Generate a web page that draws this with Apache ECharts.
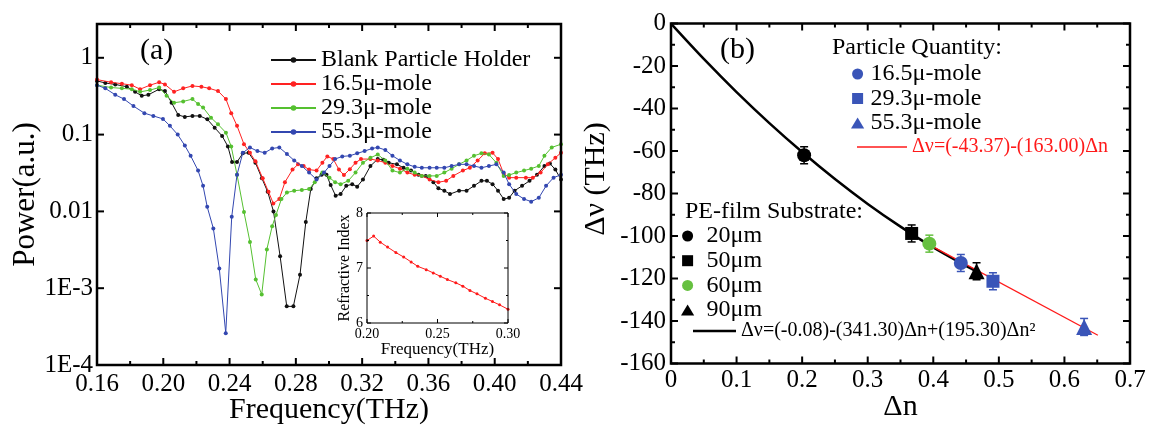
<!DOCTYPE html>
<html><head><meta charset="utf-8">
<script src="https://cdn.jsdelivr.net/npm/echarts@6/dist/echarts.min.js"></script>
<style>html,body{margin:0;padding:0;background:#fff}#c{width:1151px;height:426px}</style>
</head><body><div id="c"></div>
<script>
// ---------- Panel (a): power spectra, [frequency THz, power a.u.] ----------
const seriesNamesA = ['Blank Particle Holder', '16.5μ-mole', '29.3μ-mole', '55.3μ-mole'];
const blankHolder = [[0.160,0.50],[0.165,0.47],[0.171,0.45],[0.178,0.42],[0.183,0.36],[0.187,0.32],[0.191,0.33],[0.1975,0.39],[0.201,0.37],[0.205,0.26],[0.209,0.18],[0.213,0.17],[0.2176,0.175],[0.222,0.175],[0.2266,0.158],[0.231,0.123],[0.2355,0.096],[0.239,0.07],[0.2415,0.044],[0.2445,0.044],[0.248,0.057],[0.2515,0.058],[0.2556,0.043],[0.2595,0.027],[0.263,0.018],[0.2665,0.010],[0.2705,0.0026],[0.2745,0.00058],[0.2785,0.00058],[0.2825,0.0015],[0.286,0.0073],[0.289,0.0195],[0.2925,0.027],[0.2955,0.030],[0.2985,0.030],[0.301,0.022],[0.304,0.016],[0.307,0.0168],[0.3104,0.0215],[0.314,0.0226],[0.317,0.021],[0.3205,0.026],[0.325,0.039],[0.3294,0.048],[0.3327,0.047],[0.336,0.043],[0.341,0.041],[0.345,0.037],[0.3495,0.034],[0.354,0.030],[0.3584,0.029],[0.363,0.024],[0.366,0.020],[0.3696,0.0186],[0.373,0.0168],[0.3785,0.0186],[0.383,0.0186],[0.3875,0.0215],[0.392,0.025],[0.3953,0.025],[0.3987,0.0226],[0.402,0.0186],[0.4054,0.0145],[0.4087,0.015],[0.412,0.0186],[0.4165,0.0215],[0.421,0.025],[0.4255,0.030],[0.43,0.039],[0.4333,0.042],[0.4366,0.035],[0.44,0.026]];
const mole165 = [[0.160,0.52],[0.1685,0.48],[0.175,0.46],[0.181,0.44],[0.186,0.39],[0.192,0.44],[0.1975,0.48],[0.201,0.45],[0.2065,0.36],[0.212,0.40],[0.2176,0.43],[0.223,0.42],[0.2277,0.40],[0.233,0.37],[0.2378,0.29],[0.241,0.19],[0.2445,0.13],[0.2487,0.075],[0.2523,0.058],[0.2556,0.045],[0.26,0.027],[0.2635,0.018],[0.2664,0.0127],[0.27,0.0145],[0.2734,0.024],[0.278,0.035],[0.2813,0.041],[0.2847,0.039],[0.288,0.035],[0.2925,0.034],[0.296,0.043],[0.299,0.052],[0.3026,0.048],[0.306,0.035],[0.309,0.0297],[0.3126,0.0355],[0.316,0.043],[0.3193,0.048],[0.325,0.048],[0.3294,0.046],[0.334,0.043],[0.3383,0.039],[0.3428,0.036],[0.3473,0.032],[0.3517,0.030],[0.356,0.029],[0.3607,0.026],[0.366,0.024],[0.3707,0.025],[0.375,0.029],[0.3808,0.034],[0.385,0.037],[0.3897,0.046],[0.394,0.057],[0.3987,0.058],[0.402,0.048],[0.4054,0.031],[0.4087,0.0275],[0.413,0.0275],[0.4188,0.0275],[0.423,0.0275],[0.4277,0.032],[0.432,0.041],[0.4366,0.050],[0.44,0.058]];
const mole293 = [[0.160,0.44],[0.1685,0.41],[0.175,0.40],[0.181,0.39],[0.186,0.36],[0.192,0.38],[0.1975,0.41],[0.202,0.32],[0.2065,0.26],[0.212,0.27],[0.2176,0.29],[0.221,0.25],[0.224,0.225],[0.2288,0.166],[0.233,0.136],[0.2378,0.106],[0.241,0.070],[0.2445,0.030],[0.2487,0.0098],[0.2523,0.0040],[0.2558,0.0013],[0.2594,0.00083],[0.2625,0.0032],[0.2657,0.0064],[0.268,0.009],[0.2713,0.0145],[0.2746,0.0176],[0.279,0.0186],[0.2836,0.019],[0.288,0.0195],[0.2914,0.024],[0.296,0.032],[0.3003,0.0275],[0.3037,0.024],[0.307,0.0226],[0.3116,0.025],[0.316,0.032],[0.3205,0.043],[0.325,0.050],[0.3294,0.055],[0.334,0.046],[0.3383,0.034],[0.3428,0.032],[0.3473,0.036],[0.3517,0.032],[0.356,0.029],[0.3607,0.029],[0.365,0.029],[0.3696,0.032],[0.374,0.036],[0.3785,0.041],[0.383,0.046],[0.3875,0.053],[0.392,0.057],[0.3965,0.055],[0.401,0.043],[0.4054,0.029],[0.4087,0.0297],[0.413,0.032],[0.4177,0.034],[0.422,0.036],[0.4266,0.039],[0.43,0.053],[0.4344,0.068],[0.44,0.075]];
const mole553 = [[0.160,0.44],[0.165,0.40],[0.171,0.33],[0.1763,0.29],[0.182,0.235],[0.1886,0.19],[0.194,0.175],[0.1998,0.16],[0.204,0.13],[0.2087,0.10],[0.213,0.072],[0.2165,0.053],[0.221,0.034],[0.224,0.0215],[0.2265,0.0115],[0.2302,0.006],[0.2338,0.0018],[0.2377,0.00026],[0.2413,0.0085],[0.2445,0.030],[0.248,0.058],[0.2523,0.068],[0.2568,0.061],[0.2612,0.058],[0.2657,0.066],[0.27,0.068],[0.2746,0.056],[0.279,0.046],[0.2836,0.039],[0.288,0.032],[0.2925,0.026],[0.297,0.032],[0.3003,0.039],[0.3037,0.048],[0.308,0.052],[0.3126,0.053],[0.317,0.057],[0.3215,0.061],[0.326,0.066],[0.3294,0.068],[0.334,0.063],[0.3383,0.053],[0.3428,0.046],[0.3473,0.041],[0.3517,0.038],[0.356,0.037],[0.3607,0.037],[0.365,0.037],[0.3696,0.037],[0.374,0.039],[0.3785,0.041],[0.383,0.041],[0.3875,0.039],[0.392,0.037],[0.3965,0.039],[0.401,0.041],[0.4054,0.032],[0.4087,0.0226],[0.413,0.0168],[0.4177,0.0145],[0.422,0.0134],[0.4266,0.015],[0.431,0.0215],[0.4355,0.0275],[0.44,0.030]];
const powerTickLabels = {'-4':'1E-4', '-3':'1E-3', '-2':'0.01', '-1':'0.1', '0':'1'};

// ---------- Inset: refractive index ----------
const insetFreq  = [0.200,0.2047,0.2094,0.2146,0.2205,0.226,0.2313,0.236,0.242,0.247,0.252,0.257,0.263,0.268,0.273,0.278,0.284,0.289,0.294,0.300];
const insetIndex = [7.50,7.58,7.47,7.38,7.28,7.20,7.11,7.03,6.97,6.91,6.85,6.79,6.73,6.67,6.59,6.53,6.45,6.39,6.33,6.25];

// ---------- Panel (b): frequency shift vs index change ----------
const substrateNames = ['20μm', '50μm', '60μm', '90μm'];
const substrateDn  = [0.203, 0.367, 0.394, 0.466];
const substrateDv  = [-62.0, -98.8, -103.6, -116.6];
const substrateErr = [4, 4, 4, 4];
const quantityNames = ['16.5μ-mole', '29.3μ-mole', '55.3μ-mole'];
const quantityDn  = [0.442, 0.491, 0.630];
const quantityDv  = [-112.7, -121.3, -142.8];
const quantityErr = [4, 4, 4];
const quadFitName = 'Δν=(-0.08)-(341.30)Δn+(195.30)Δn²';
const quadFitDn = [0, 0.05, 0.10, 0.15, 0.20, 0.25, 0.30, 0.35, 0.40, 0.45, 0.47];
const quadFitDv = [-0.1, -16.7, -32.3, -46.9, -60.5, -73.2, -84.9, -95.6, -105.4, -114.1, -117.4];
const linFitName = 'Δν=(-43.37)-(163.00)Δn';
const linFitDn = [0.395, 0.651];
const linFitDv = [-104.3, -146.7];

// ---------- axis ranges (min, max, major step, minor subdivisions) ----------
const rangeAx = [0.16, 0.44, 0.04, 2], rangeAy = [-4, 0.44, 1, 1];
const rangeIx = [0.2, 0.3, 0.05, 2],  rangeIy = [6, 8, 1, 2];
const rangeBx = [0, 0.7, 0.1, 2],     rangeBy = [-160, 0, 20, 2];

// ---------- styles / layout ----------
const FONT = 'Liberation Serif';
const colorsA = ['#111111', '#ff2222', '#55c030', '#3347b0'];
const BLUE = '#3a55b8', GREEN = '#66c040', BLACK = '#000000', RED = '#ff1a1a';
const substrateColors = [BLACK, BLACK, GREEN, BLACK];
const substrateSymbols = ['circle', 'rect', 'circle', 'triangle'];
const substrateSizes = [14, 13, 14, 16];
const quantitySymbols = ['circle', 'rect', 'triangle'];
const quantitySizes = [14, 13, 16];
const SQ = 'path://M0,0H10V10H0Z';
const TRI = 'path://M6,0L12,10H0Z';
const iconFor = s => s === 'rect' ? SQ : (s === 'triangle' ? TRI : 'circle');
const grids = [
  {left: 97, top: 24, width: 464, height: 341},
  {left: 367, top: 213, width: 141, height: 110},
  {left: 671, top: 23.5, width: 459, height: 340}
];

function axis(gridIndex, pos, r, o) {
  const main = pos === 'bottom' || pos === 'left';
  const ax = {
    gridIndex: gridIndex, type: 'value', position: pos,
    min: r[0], max: r[1], interval: r[2],
    splitLine: {show: false}, splitArea: {show: false},
    axisLine: {show: false, onZero: false}, axisTick: {show: false}, minorTick: {show: false},
    axisLabel: {show: main, color: '#000', fontFamily: FONT, fontSize: o.fs, margin: o.lm, formatter: o.fmt, showMaxLabel: o.showMax !== false}
  };
  if (main && o.name) {
    ax.name = o.name; ax.nameLocation = 'middle'; ax.nameGap = o.nameGap; ax.nameMoveOverlap = false;
    ax.nameTextStyle = {color: '#000', fontFamily: FONT, fontSize: o.nfs};
  }
  return ax;
}

const xAxes = [
  axis(0, 'bottom', rangeAx, {fs: 25, lm: 7, fmt: v => v.toFixed(2), name: 'Frequency(THz)', nameGap: 30, nfs: 30}),
  axis(0, 'top', rangeAx, {}),
  axis(1, 'bottom', rangeIx, {fs: 14, lm: 4, fmt: v => v.toFixed(2), name: 'Frequency(THz)', nameGap: 18, nfs: 17}),
  axis(1, 'top', rangeIx, {}),
  axis(2, 'bottom', rangeBx, {fs: 25, lm: 4, fmt: v => String(Math.round(v * 10) / 10), name: 'Δn', nameGap: 29, nfs: 30}),
  axis(2, 'top', rangeBx, {})
];
const yAxes = [
  axis(0, 'left', rangeAy, {fs: 25, lm: 4, showMax: false, fmt: v => powerTickLabels[String(Math.round(v))] || '', name: 'Power(a.u.)', nameGap: 56, nfs: 31}),
  axis(0, 'right', rangeAy, {}),
  axis(1, 'left', rangeIy, {fs: 14, lm: 4, fmt: v => String(v), name: 'Refractive Index', nameGap: 14, nfs: 16}),
  axis(1, 'right', rangeIy, {}),
  axis(2, 'left', rangeBy, {fs: 25, lm: 5, fmt: v => String(v)}),
  axis(2, 'right', rangeBy, {})
];

function tickValues(r) {
  const major = [], minor = [];
  const n = Math.round((r[1] - r[0]) / r[2]);
  for (let k = 0; k <= n; k++) {
    const v = r[0] + k * r[2];
    major.push(v);
    for (let m = 1; m < r[3]; m++) {
      const mv = v + m * r[2] / r[3];
      if (mv < r[1] - 1e-9) minor.push(mv);
    }
  }
  return {major, minor};
}
const frameStyles = [{lw: 2.5, tl: 7, ml: 4, tw: 2}, {lw: 1, tl: 4, ml: 2, tw: 1}, {lw: 2.5, tl: 7, ml: 4, tw: 2}];
const frameRanges = [[rangeAx, rangeAy], [rangeIx, rangeIy], [rangeBx, rangeBy]];

// Box + inward ticks on all four sides, placed through the axes' scales (api.coord).
function frameSeries(gi) {
  const rx = frameRanges[gi][0], ry = frameRanges[gi][1], st = frameStyles[gi];
  const tx = tickValues(rx), ty = tickValues(ry);
  return {
    type: 'custom', xAxisIndex: gi * 2, yAxisIndex: gi * 2, z: 20, silent: true, clip: false,
    data: [[rx[0], ry[0]]],
    renderItem: (params, api) => {
      const p0 = api.coord([rx[0], ry[0]]), p1 = api.coord([rx[1], ry[1]]);
      const L = p0[0], R = p1[0], B = p0[1], T = p1[1];
      const kids = [{type: 'rect', shape: {x: L, y: T, width: R - L, height: B - T}, style: {fill: null, stroke: '#000', lineWidth: st.lw}}];
      const tick = (x1, y1, x2, y2) => kids.push({type: 'line', shape: {x1, y1, x2, y2}, style: {stroke: '#000', lineWidth: st.tw}});
      tx.major.forEach(v => { const x = api.coord([v, ry[0]])[0]; tick(x, B, x, B - st.tl); tick(x, T, x, T + st.tl); });
      tx.minor.forEach(v => { const x = api.coord([v, ry[0]])[0]; tick(x, B, x, B - st.ml); tick(x, T, x, T + st.ml); });
      ty.major.forEach(v => { const y = api.coord([rx[0], v])[1]; tick(L, y, L + st.tl, y); tick(R, y, R - st.tl, y); });
      ty.minor.forEach(v => { const y = api.coord([rx[0], v])[1]; tick(L, y, L + st.ml, y); tick(R, y, R - st.ml, y); });
      return {type: 'group', children: kids};
    }
  };
}

const series = [];
[blankHolder, mole165, mole293, mole553].forEach((arr, i) => {
  series.push({
    name: seriesNamesA[i], type: 'line', xAxisIndex: 0, yAxisIndex: 0,
    data: arr.map(p => [p[0], Math.log10(p[1])]),
    symbol: 'circle', symbolSize: 4, showSymbol: true,
    itemStyle: {color: colorsA[i]}, lineStyle: {color: colorsA[i], width: 1}, z: 2 + i * 0.1
  });
});
series.push({
  name: 'inset', type: 'line', xAxisIndex: 2, yAxisIndex: 2,
  data: insetFreq.map((f, i) => [f, insetIndex[i]]),
  symbol: 'circle', symbolSize: 3, itemStyle: {color: RED}, lineStyle: {color: RED, width: 1}
});
series.push({
  name: quadFitName, type: 'line', xAxisIndex: 4, yAxisIndex: 4, smooth: 0.3,
  data: quadFitDn.map((x, i) => [x, quadFitDv[i]]), symbol: 'none',
  itemStyle: {color: BLACK}, lineStyle: {color: BLACK, width: 2.5}, z: 2
});
series.push({
  name: linFitName, type: 'line', xAxisIndex: 4, yAxisIndex: 4,
  data: linFitDn.map((x, i) => [x, linFitDv[i]]), symbol: 'none',
  itemStyle: {color: RED}, lineStyle: {color: RED, width: 1.3}, z: 3
});
function errBars(dn, dv, err, colors) {
  return {
    type: 'custom', xAxisIndex: 4, yAxisIndex: 4, z: 4, silent: true,
    data: dn.map((x, i) => [x, dv[i], err[i], i]),
    renderItem: (params, api) => {
      const x = api.value(0), y = api.value(1), e = api.value(2), c = colors[api.value(3)];
      const t = api.coord([x, y + e]), b = api.coord([x, y - e]), hw = 4;
      const st = {stroke: c, lineWidth: 1.5};
      return {type: 'group', children: [
        {type: 'line', shape: {x1: t[0], y1: t[1], x2: b[0], y2: b[1]}, style: st},
        {type: 'line', shape: {x1: t[0] - hw, y1: t[1], x2: t[0] + hw, y2: t[1]}, style: st},
        {type: 'line', shape: {x1: b[0] - hw, y1: b[1], x2: b[0] + hw, y2: b[1]}, style: st}
      ]};
    }
  };
}
series.push(errBars(substrateDn, substrateDv, substrateErr, substrateColors));
series.push(errBars(quantityDn, quantityDv, quantityErr, quantityNames.map(() => BLUE)));
substrateNames.forEach((n, i) => series.push({
  name: n, type: 'scatter', xAxisIndex: 4, yAxisIndex: 4, z: 5,
  symbol: substrateSymbols[i], symbolSize: substrateSizes[i],
  data: [[substrateDn[i], substrateDv[i]]], itemStyle: {color: substrateColors[i], opacity: 1}
}));
quantityNames.forEach((n, i) => series.push({
  name: 'b:' + n, type: 'scatter', xAxisIndex: 4, yAxisIndex: 4, z: 5,
  symbol: quantitySymbols[i], symbolSize: quantitySizes[i],
  data: [[quantityDn[i], quantityDv[i]]], itemStyle: {color: BLUE, opacity: 1}
}));
series.push(frameSeries(0), frameSeries(1), frameSeries(2));

const legText = (size, color) => ({color: color || '#000', fontFamily: FONT, fontSize: size, lineHeight: 22});
const option = {
  animation: false,
  textStyle: {fontFamily: FONT},
  grid: grids.map(g => Object.assign({outerBoundsMode: 'none', containLabel: false}, g)),
  xAxis: xAxes,
  yAxis: yAxes,
  legend: [
    {data: seriesNamesA, orient: 'vertical', left: 270, top: 48, itemWidth: 45, itemHeight: 7, itemGap: 0, padding: 0,
     selectedMode: false, textStyle: legText(24)},
    {data: quantityNames.map((n, i) => ({name: 'b:' + n, icon: iconFor(quantitySymbols[i])})), formatter: n => n.slice(2),
     orient: 'vertical', left: 851, top: 62, itemWidth: 16, itemHeight: 11, itemGap: 0.5, padding: 0, symbolKeepAspect: true,
     selectedMode: false, textStyle: legText(24)},
    {data: [{name: linFitName, icon: 'rect'}], orient: 'vertical', left: 857, top: 136, itemWidth: 50, itemHeight: 1.3, padding: 0,
     selectedMode: false, textStyle: legText(20, RED)},
    {data: substrateNames.map((n, i) => ({name: n, icon: iconFor(substrateSymbols[i])})),
     orient: 'vertical', left: 681, top: 224, itemWidth: 28, itemHeight: 11, itemGap: 0.7, padding: 0, symbolKeepAspect: true,
     selectedMode: false, textStyle: legText(24)},
    {data: [{name: quadFitName, icon: 'rect'}], orient: 'vertical', left: 693, top: 320, itemWidth: 43, itemHeight: 2.5, padding: 0,
     selectedMode: false, textStyle: legText(20)}
  ],
  graphic: [
    {type: 'text', left: 140, top: 36, style: {text: '(a)', font: '30px ' + FONT, fill: '#000'}},
    {type: 'text', left: 720, top: 35, style: {text: '(b)', font: '30px ' + FONT, fill: '#000'}},
    {type: 'text', x: 832, y: 48, style: {text: 'Particle Quantity:', font: '24px ' + FONT, fill: '#000', verticalAlign: 'middle'}},
    {type: 'text', x: 685, y: 212, style: {text: 'PE-film Substrate:', font: '24px ' + FONT, fill: '#000', verticalAlign: 'middle'}},
    {type: 'text', x: 596, y: 179, rotation: Math.PI / 2, style: {text: 'Δν (THz)', font: '30px ' + FONT, fill: '#000', align: 'center', verticalAlign: 'middle'}}
  ],
  series
};
const chart = echarts.init(document.getElementById('c'), null, {renderer: 'canvas'});
chart.setOption(option);
</script></body></html>
